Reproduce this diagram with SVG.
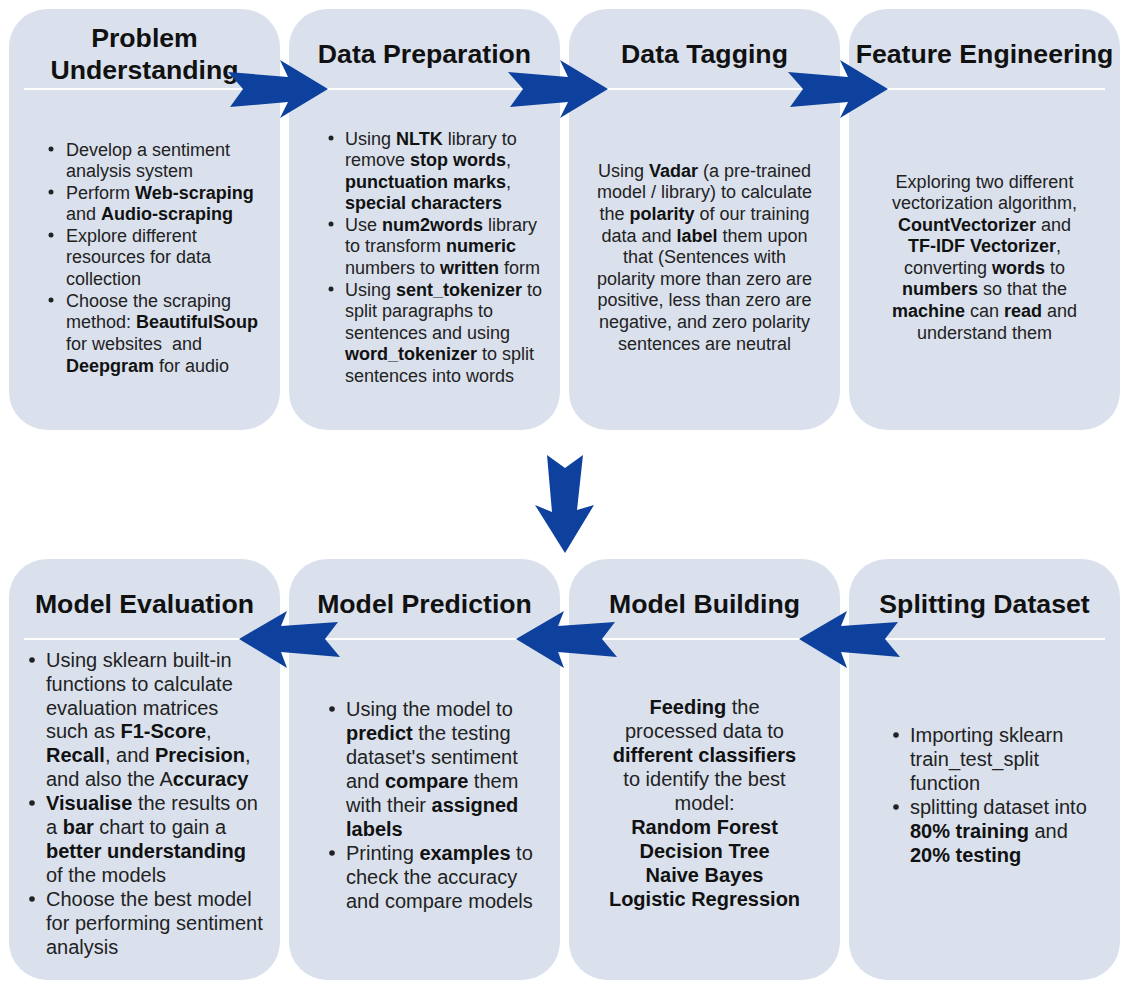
<svg xmlns="http://www.w3.org/2000/svg" width="1128" height="1002" viewBox="0 0 1128 1002">
<style>
text{font-family:"Liberation Sans",Arial,Helvetica,sans-serif;fill:#222}
.box{fill:#dae1ed}
.sep{stroke:#fff;stroke-width:2}
.title{font-size:26.67px;font-weight:bold;fill:#111;text-anchor:middle}
.t{font-size:18px}
.s{font-size:20px}
.c{text-anchor:middle}
.b{font-weight:bold;fill:#111}
.dot{fill:#222}
.arr{fill:#0d419d}
</style>
<defs>
<polygon id="ar" points="-2,-17 58,-12 50,-29 98,0 50,29 58,13 0,18 13,0"/>
<polygon id="al" points="0,0 48,-28 42,-13 99,-17 86,0 101,18 42,13 48,29"/>
</defs>
<rect width="1128" height="1002" fill="#fff"/>

<g id="n1">
<rect class="box" x="9" y="9" width="271" height="421" rx="38"/>
<line class="sep" x1="24" y1="89" x2="265" y2="89"/>
<text class="title" x="144.5" y="47">Problem</text>
<text class="title" x="144.5" y="79">Understanding</text>
<g class="dot"><circle cx="51" cy="149" r="2.5"/><circle cx="51" cy="192" r="2.5"/><circle cx="51" cy="235" r="2.5"/><circle cx="51" cy="300" r="2.5"/></g>
<text class="t" x="66" y="155.5">Develop a sentiment</text>
<text class="t" x="66" y="177">analysis system</text>
<text class="t" x="66" y="198.5">Perform <tspan class="b">Web-scraping</tspan></text>
<text class="t" x="66" y="220">and <tspan class="b">Audio-scraping</tspan></text>
<text class="t" x="66" y="241.5">Explore different</text>
<text class="t" x="66" y="263">resources for data</text>
<text class="t" x="66" y="284.5">collection</text>
<text class="t" x="66" y="306.5">Choose the scraping</text>
<text class="t" x="66" y="328">method: <tspan class="b">BeautifulSoup</tspan></text>
<text class="t" x="66" y="349.5" xml:space="preserve">for websites  and</text>
<text class="t" x="66" y="371.5"><tspan class="b">Deepgram</tspan> for audio</text>
</g>

<g id="n2">
<rect class="box" x="289" y="9" width="271" height="421" rx="38"/>
<line class="sep" x1="304" y1="89" x2="545" y2="89"/>
<text class="title" x="424.5" y="63">Data Preparation</text>
<g class="dot"><circle cx="331" cy="138" r="2.5"/><circle cx="331" cy="224" r="2.5"/><circle cx="331" cy="289" r="2.5"/></g>
<text class="t" x="345" y="144.5">Using <tspan class="b">NLTK</tspan> library to</text>
<text class="t" x="345" y="166">remove <tspan class="b">stop words</tspan>,</text>
<text class="t" x="345" y="187.5"><tspan class="b">punctuation marks</tspan>,</text>
<text class="t" x="345" y="209"><tspan class="b">special characters</tspan></text>
<text class="t" x="345" y="230.5">Use <tspan class="b">num2words</tspan> library</text>
<text class="t" x="345" y="252">to transform <tspan class="b">numeric</tspan></text>
<text class="t" x="345" y="274">numbers to <tspan class="b">written</tspan> form</text>
<text class="t" x="345" y="295.5">Using <tspan class="b">sent_tokenizer</tspan> to</text>
<text class="t" x="345" y="317">split paragraphs to</text>
<text class="t" x="345" y="338.5">sentences and using</text>
<text class="t" x="345" y="360"><tspan class="b">word_tokenizer</tspan> to split</text>
<text class="t" x="345" y="381.5">sentences into words</text>
</g>

<g id="n3">
<rect class="box" x="569" y="9" width="271" height="421" rx="38"/>
<line class="sep" x1="584" y1="89" x2="825" y2="89"/>
<text class="title" x="704.5" y="63">Data Tagging</text>
<text class="t c" x="704.5" y="176.5">Using <tspan class="b">Vadar</tspan> (a pre-trained</text>
<text class="t c" x="704.5" y="198">model / library) to calculate</text>
<text class="t c" x="704.5" y="220">the <tspan class="b">polarity</tspan> of our training</text>
<text class="t c" x="704.5" y="241.5">data and <tspan class="b">label</tspan> them upon</text>
<text class="t c" x="704.5" y="263">that (Sentences with</text>
<text class="t c" x="704.5" y="284.5">polarity more than zero are</text>
<text class="t c" x="704.5" y="306">positive, less than zero are</text>
<text class="t c" x="704.5" y="327.5">negative, and zero polarity</text>
<text class="t c" x="704.5" y="349.5">sentences are neutral</text>
</g>

<g id="n4">
<rect class="box" x="849" y="9" width="271" height="421" rx="38"/>
<line class="sep" x1="864" y1="89" x2="1105" y2="89"/>
<text class="title" x="984.5" y="63">Feature Engineering</text>
<text class="t c" x="984.5" y="187.5">Exploring two different</text>
<text class="t c" x="984.5" y="208.5">vectorization algorithm,</text>
<text class="t c" x="984.5" y="230.5"><tspan class="b">CountVectorizer</tspan> and</text>
<text class="t c" x="984.5" y="252"><tspan class="b">TF-IDF Vectorizer</tspan>,</text>
<text class="t c" x="984.5" y="273.5">converting <tspan class="b">words</tspan> to</text>
<text class="t c" x="984.5" y="295"><tspan class="b">numbers</tspan> so that the</text>
<text class="t c" x="984.5" y="316.5"><tspan class="b">machine</tspan> can <tspan class="b">read</tspan> and</text>
<text class="t c" x="984.5" y="338.5">understand them</text>
</g>

<g id="n5">
<rect class="box" x="9" y="559" width="271" height="421" rx="38"/>
<line class="sep" x1="24" y1="639" x2="265" y2="639"/>
<text class="title" x="144.5" y="613">Model Evaluation</text>
<g class="dot"><circle cx="32" cy="660" r="2.8"/><circle cx="32" cy="803" r="2.8"/><circle cx="32" cy="899" r="2.8"/></g>
<text class="s" x="46" y="667">Using sklearn built-in</text>
<text class="s" x="46" y="691">functions to calculate</text>
<text class="s" x="46" y="714.5">evaluation matrices</text>
<text class="s" x="46" y="738">such as <tspan class="b">F1-Score</tspan>,</text>
<text class="s" x="46" y="762"><tspan class="b">Recall</tspan>, and <tspan class="b">Precision</tspan>,</text>
<text class="s" x="46" y="786">and also the A<tspan class="b">ccuracy</tspan></text>
<text class="s" x="46" y="810"><tspan class="b">Visualise</tspan> the results on</text>
<text class="s" x="46" y="834">a <tspan class="b">bar</tspan> chart to gain a</text>
<text class="s" x="46" y="858"><tspan class="b">better understanding</tspan></text>
<text class="s" x="46" y="882">of the models</text>
<text class="s" x="46" y="906">Choose the best model</text>
<text class="s" x="46" y="930">for performing sentiment</text>
<text class="s" x="46" y="954">analysis</text>
</g>

<g id="n6">
<rect class="box" x="289" y="559" width="271" height="421" rx="38"/>
<line class="sep" x1="304" y1="639" x2="545" y2="639"/>
<text class="title" x="424.5" y="613">Model Prediction</text>
<g class="dot"><circle cx="332" cy="709" r="2.8"/><circle cx="332" cy="853" r="2.8"/></g>
<text class="s" x="346" y="716">Using the model to</text>
<text class="s" x="346" y="740"><tspan class="b">predict</tspan> the testing</text>
<text class="s" x="346" y="764">dataset's sentiment</text>
<text class="s" x="346" y="788">and <tspan class="b">compare</tspan> them</text>
<text class="s" x="346" y="812">with their <tspan class="b">assigned</tspan></text>
<text class="s" x="346" y="836"><tspan class="b">labels</tspan></text>
<text class="s" x="346" y="860">Printing <tspan class="b">examples</tspan> to</text>
<text class="s" x="346" y="884">check the accuracy</text>
<text class="s" x="346" y="908">and compare models</text>
</g>

<g id="n7">
<rect class="box" x="569" y="559" width="271" height="421" rx="38"/>
<line class="sep" x1="584" y1="639" x2="825" y2="639"/>
<text class="title" x="704.5" y="613">Model Building</text>
<text class="s c" x="704.5" y="714"><tspan class="b">Feeding</tspan> the</text>
<text class="s c" x="704.5" y="738">processed data to</text>
<text class="s c" x="704.5" y="762"><tspan class="b">different classifiers</tspan></text>
<text class="s c" x="704.5" y="786">to identify the best</text>
<text class="s c" x="704.5" y="810">model:</text>
<text class="s c b" x="704.5" y="834">Random Forest</text>
<text class="s c b" x="704.5" y="858">Decision Tree</text>
<text class="s c b" x="704.5" y="882">Naive Bayes</text>
<text class="s c b" x="704.5" y="906">Logistic Regression</text>
</g>

<g id="n8">
<rect class="box" x="849" y="559" width="271" height="421" rx="38"/>
<line class="sep" x1="864" y1="639" x2="1105" y2="639"/>
<text class="title" x="984.5" y="613">Splitting Dataset</text>
<g class="dot"><circle cx="896" cy="735" r="2.8"/><circle cx="896" cy="807" r="2.8"/></g>
<text class="s" x="910" y="742">Importing sklearn</text>
<text class="s" x="910" y="766">train_test_split</text>
<text class="s" x="910" y="790">function</text>
<text class="s" x="910" y="814">splitting dataset into</text>
<text class="s" x="910" y="838"><tspan class="b">80% training</tspan> and</text>
<text class="s" x="910" y="862"><tspan class="b">20% testing</tspan></text>
</g>

<g id="connectors" class="arr">
<use href="#ar" x="230" y="89"/>
<use href="#ar" x="510" y="89"/>
<use href="#ar" x="790" y="89"/>
<polygon points="547,455 565,468 583,455 577,510 594,505 565,553 535,505 552,512"/>
<use href="#al" x="799" y="639"/>
<use href="#al" x="516" y="639"/>
<use href="#al" x="239" y="639"/>
</g>
</svg>
